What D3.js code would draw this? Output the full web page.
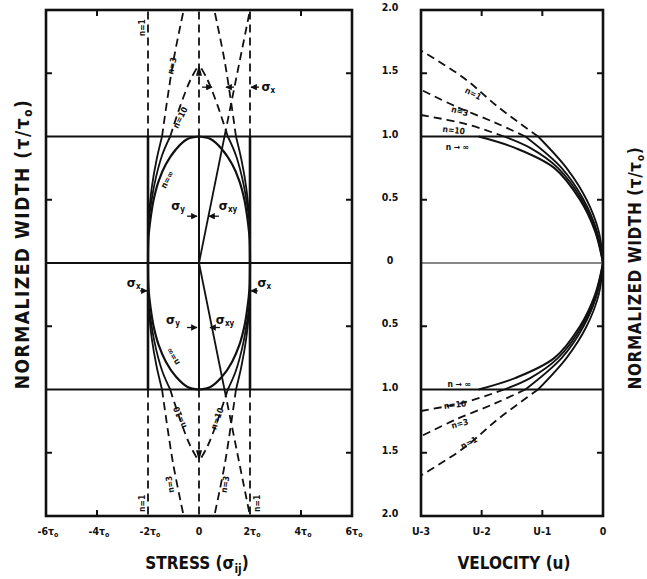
<!DOCTYPE html>
<html>
<head>
<meta charset="utf-8">
<script src="https://cdn.jsdelivr.net/npm/d3@7"></script>
<style>
	body { margin: 0; background: #fff; }
	text { font-family: "DejaVu Sans Condensed", "DejaVu Sans", sans-serif; font-weight: bold; fill: #111; }
</style>
</head>
<body>
<div id="chart"></div>
<script>
// ---------- data ----------

// stress panel ticks
const stressTicks = [-6, -4, -2, 0, 2, 4, 6];
const stressTickNums = ["-6", "-4", "-2", "0", "2", "4", "6"];
const widthMinor = [1.5, 0.5, -0.5, -1.5];
const widthLines = [1, 0, -1];

// velocity panel ticks
const velTicks = [-3, -2, -1, 0];
const velTickLabels = ["U-3", "U-2", "U-1", "0"];
const widthTicks = [2, 1.5, 1, 0.5, 0, -0.5, -1, -1.5, -2];
const widthTickLabels = ["2.0", "1.5", "1.0", "0.5", "0", "0.5", "1.0", "1.5", "2.0"];

// sigma_x curves, upper-left quarter [stress, width]; mirrored to the other quarters
const sxN1 = [[-2, 0], [-2, 1], [-2, 2]];
const sxN3 = [[-2, 0.3], [-1.85, 0.6], [-1.66, 0.82], [-1.45, 1.0], [-1.02, 1.58], [-0.6, 2.0]];
const sxN10 = [[-2, 0.3], [-1.75, 0.62], [-1.45, 0.85], [-1.13, 1.0], [-0.72, 1.25], [-0.33, 1.45], [0, 1.57]];
const sxInf = [[-2, 0], [-1.98, 0.2], [-1.9, 0.35], [-1.78, 0.5], [-1.58, 0.65], [-1.3, 0.78], [-0.9, 0.9], [-0.45, 0.98], [0, 1.0]];
// sigma_y along the centre, sigma_xy straight line
const syLine = [[0, 0], [0, 1], [0, 2]];
const sxyLine = [[0, 0], [1, 1], [2, 2]];

// velocity profiles [u, width], upper half; mirrored for the lower half
const velN1 = [[0, 0], [-0.07, 0.25], [-0.27, 0.5], [-0.6, 0.75], [-1.07, 1.0], [-1.72, 1.23], [-2.3, 1.465], [-3.0, 1.68]];
const velN3 = [[0, 0], [-0.1, 0.25], [-0.32, 0.5], [-0.68, 0.75], [-1.28, 1.0], [-1.78, 1.11], [-2.44, 1.24], [-3.0, 1.37]];
const velN10 = [[0, 0], [-0.12, 0.25], [-0.35, 0.5], [-0.74, 0.75], [-1.2, 0.91], [-1.63, 1.0], [-2.27, 1.1], [-3.0, 1.17]];
const velInf = [[0, 0], [-0.13, 0.25], [-0.38, 0.5], [-0.8, 0.75], [-1.45, 0.91], [-2.05, 1.0]];

// ---------- layout ----------
const width = 647, height = 579;
const svg = d3.select("#chart").append("svg")
	.attr("width", width)
	.attr("height", height);

const xS = d3.scaleLinear().domain([-6, 6]).range([46, 352]);
const xV = d3.scaleLinear().domain([-3, 0]).range([421, 603]);
const yW = d3.scaleLinear().domain([2, -2]).range([10, 516]);

const DASH = "8,5";

// arrow marker
svg.append("defs").append("marker")
	.attr("id", "arr")
	.attr("viewBox", "0 0 10 10")
	.attr("refX", 9).attr("refY", 5)
	.attr("markerWidth", 5).attr("markerHeight", 5)
	.attr("orient", "auto")
	.append("path").attr("d", "M0,0L10,5L0,10Z").attr("fill", "#111");

// draws a curve, solid where |width| <= 1, dashed beyond
const drawSplit = (g, pts, xScale, sx, sy, sw) => {
	const line = d3.line()
		.x(d => xScale(d[0] * sx))
		.y(d => yW(d[1] * sy))
		.curve(d3.curveCatmullRom.alpha(0.5));
	const solid = pts.filter(d => d[1] <= 1);
	const dashed = pts.filter(d => d[1] >= 1);
	if (solid.length > 1) {
		g.append("path").attr("d", line(solid))
			.attr("fill", "none").attr("stroke", "#111").attr("stroke-width", sw);
	}
	if (dashed.length > 1) {
		g.append("path").attr("d", line(dashed))
			.attr("fill", "none").attr("stroke", "#111").attr("stroke-width", 1.8)
			.attr("stroke-dasharray", DASH);
	}
}

const frame = (g, xScale) => {
	const [x0, x1] = xScale.range();
	g.append("rect")
		.attr("x", x0).attr("y", yW(2))
		.attr("width", x1 - x0).attr("height", yW(-2) - yW(2))
		.attr("fill", "none").attr("stroke", "#111").attr("stroke-width", 2.6);
}

// ---------- stress panel ----------
const gS = svg.append("g");

widthLines.forEach(v => {
	gS.append("line")
		.attr("x1", xS(-6)).attr("x2", xS(6))
		.attr("y1", yW(v)).attr("y2", yW(v))
		.attr("stroke", "#111").attr("stroke-width", v === 0 ? 1.8 : 2.2);
});

// sigma_x family, four quarters
[[1, 1], [-1, 1], [1, -1], [-1, -1]].forEach(([sx, sy]) => {
	drawSplit(gS, sxN1, xS, sx, sy, 2.6);
	drawSplit(gS, sxN3, xS, sx, sy, 1.8);
	drawSplit(gS, sxN10, xS, sx, sy, 1.8);
	drawSplit(gS, sxInf, xS, sx, sy, 2.2);
});
[1, -1].forEach(sy => {
	drawSplit(gS, syLine, xS, 1, sy, 2);
	drawSplit(gS, sxyLine, xS, 1, sy, 1.8);
	// cusp arrowheads where the n=10 curves meet the centre line
	const tip = yW(1.57 * sy), base = yW(1.48 * sy);
	gS.append("path")
		.attr("d", `M${xS(0)},${tip}L${xS(0) - 3},${base}L${xS(0) + 3},${base}Z`)
		.attr("fill", "#111");
});

frame(gS, xS);

// inner ticks
widthMinor.forEach(v => {
	gS.append("line").attr("x1", xS(-6)).attr("x2", xS(-6) + 6).attr("y1", yW(v)).attr("y2", yW(v))
		.attr("stroke", "#111").attr("stroke-width", 2);
	gS.append("line").attr("x1", xS(6)).attr("x2", xS(6) - 6).attr("y1", yW(v)).attr("y2", yW(v))
		.attr("stroke", "#111").attr("stroke-width", 2);
});
[-4, 4].forEach(v => {
	gS.append("line").attr("x1", xS(v)).attr("x2", xS(v)).attr("y1", yW(2)).attr("y2", yW(2) + 6)
		.attr("stroke", "#111").attr("stroke-width", 2);
	gS.append("line").attr("x1", xS(v)).attr("x2", xS(v)).attr("y1", yW(-2)).attr("y2", yW(-2) - 6)
		.attr("stroke", "#111").attr("stroke-width", 2);
});

// tick labels
stressTicks.forEach((v, i) => {
	const t = gS.append("text")
		.attr("x", xS(v) + (v === 0 ? 0 : 2)).attr("y", 535)
		.attr("text-anchor", "middle")
		.attr("font-size", 10.5);
	t.append("tspan").text(stressTickNums[i]);
	if (v !== 0) {
		t.append("tspan").text("τ");
		t.append("tspan").attr("dy", 2).attr("font-size", 7).text("o");
	}
});

// annotation arrows
const annArrows = [
	[0.12, 0.51, 1.39], [1.37, 1.06, 1.39], [2.35, 2.04, 1.39],
	[-0.47, -0.08, 0.37], [0.78, 0.39, 0.37],
	[-0.47, -0.08, -0.51], [0.82, 0.43, -0.51],
	[-2.31, -2.04, -0.22], [2.31, 2.04, -0.22]
];
annArrows.forEach(([a, b, w]) => {
	gS.append("line")
		.attr("x1", xS(a)).attr("x2", xS(b)).attr("y1", yW(w)).attr("y2", yW(w))
		.attr("stroke", "#111").attr("stroke-width", 1.3)
		.attr("marker-end", "url(#arr)");
});

// sigma labels
const sigmaLabels = [
	["x", 2.72, 1.39], ["y", -0.82, 0.45], ["xy", 1.14, 0.45],
	["y", -1.02, -0.45], ["xy", 1.02, -0.45], ["x", -2.56, -0.16], ["x", 2.56, -0.16]
];
sigmaLabels.forEach(([sub, a, w]) => {
	const t = gS.append("text")
		.attr("x", xS(a)).attr("y", yW(w) + 4)
		.attr("text-anchor", "middle")
		.attr("font-size", 13);
	t.append("tspan").text("σ");
	t.append("tspan").attr("dy", 2).attr("font-size", 8).text(sub);
});

// n labels on the stress panel
const stressNLabels = [
	["n=1", -2.24, 1.86, -90], ["n=3", -1.06, 1.56, -77], ["n=10", -0.74, 1.15, -63], ["n=∞", -1.25, 0.66, -62],
	["n=∞", -1.02, -0.74, -120], ["n=10", -0.75, -1.22, -112], ["n=10", 0.71, -1.23, -70],
	["n=3", -1.14, -1.75, -100], ["n=3", 1.02, -1.75, -80], ["n=1", -2.24, -1.9, -90], ["n=1", 2.26, -1.9, -90]
];
stressNLabels.forEach(([s, a, w, r]) => {
	gS.append("text")
		.attr("transform", `translate(${xS(a)},${yW(w)}) rotate(${r})`)
		.attr("text-anchor", "middle").attr("dy", "0.35em")
		.attr("font-size", 8.5)
		.text(s);
});

// axis titles
const st = svg.append("text")
	.attr("x", xS(0) - 2).attr("y", 569)
	.attr("text-anchor", "middle").attr("font-size", 17);
st.append("tspan").text("STRESS (σ");
st.append("tspan").attr("dy", 4).attr("font-size", 12).text("ij");
st.append("tspan").attr("dy", -4).text(")");

const yTitle = (x, cy, size, spacing) => {
	const t = svg.append("text")
		.attr("transform", `translate(${x},${cy}) rotate(-90)`)
		.attr("text-anchor", "middle").attr("font-size", size)
		.attr("letter-spacing", spacing);
	t.append("tspan").text("NORMALIZED  WIDTH  (τ/τ");
	t.append("tspan").attr("dy", 3).attr("font-size", size * 0.62).text("o");
	t.append("tspan").attr("dy", -3).text(")");
}
yTitle(29, 244, 19, 1.5);
yTitle(641, 268, 17, 0.6);

// ---------- velocity panel ----------
const gV = svg.append("g");

widthLines.forEach(v => {
	gV.append("line")
		.attr("x1", xV(-3)).attr("x2", xV(0))
		.attr("y1", yW(v)).attr("y2", yW(v))
		.attr("stroke", "#111").attr("stroke-width", v === 0 ? 1.2 : 2.2);
});

[1, -1].forEach(sy => {
	drawSplit(gV, velN1, xV, 1, sy, 1.8);
	drawSplit(gV, velN3, xV, 1, sy, 1.8);
	drawSplit(gV, velN10, xV, 1, sy, 1.8);
	drawSplit(gV, velInf, xV, 1, sy, 2);
});

frame(gV, xV);

[1.5, 0.5, -0.5, -1.5].forEach(v => {
	gV.append("line").attr("x1", xV(-3)).attr("x2", xV(-3) + 6).attr("y1", yW(v)).attr("y2", yW(v))
		.attr("stroke", "#111").attr("stroke-width", 2);
	gV.append("line").attr("x1", xV(0)).attr("x2", xV(0) - 6).attr("y1", yW(v)).attr("y2", yW(v))
		.attr("stroke", "#111").attr("stroke-width", 2);
});
[-2, -1].forEach(v => {
	gV.append("line").attr("x1", xV(v)).attr("x2", xV(v)).attr("y1", yW(2)).attr("y2", yW(2) + 6)
		.attr("stroke", "#111").attr("stroke-width", 2);
	gV.append("line").attr("x1", xV(v)).attr("x2", xV(v)).attr("y1", yW(-2)).attr("y2", yW(-2) - 6)
		.attr("stroke", "#111").attr("stroke-width", 2);
});

velTicks.forEach((v, i) => {
	gV.append("text")
		.attr("x", xV(v)).attr("y", 535)
		.attr("text-anchor", "middle").attr("font-size", 10.5)
		.text(velTickLabels[i]);
});
widthTicks.forEach((v, i) => {
	gV.append("text")
		.attr("x", 390).attr("y", yW(v) + 1)
		.attr("text-anchor", "middle").attr("font-size", 10.5)
		.text(widthTickLabels[i]);
});

const velNLabels = [
	["n=1", -2.14, 1.34, 27], ["n=3", -2.36, 1.2, 15], ["n=10", -2.46, 1.05, 7], ["n → ∞", -2.4, 0.92, 0],
	["n → ∞", -2.37, -0.96, 0], ["n=10", -2.44, -1.12, -7], ["n=3", -2.36, -1.27, -15], ["n=1", -2.21, -1.42, -27]
];
velNLabels.forEach(([s, a, w, r]) => {
	gV.append("text")
		.attr("transform", `translate(${xV(a)},${yW(w)}) rotate(${r})`)
		.attr("text-anchor", "middle").attr("dy", "0.35em")
		.attr("font-size", 8.5)
		.text(s);
});

svg.append("text")
	.attr("x", 514).attr("y", 569)
	.attr("text-anchor", "middle").attr("font-size", 17)
	.text("VELOCITY  (u)");
</script>
</body>
</html>
